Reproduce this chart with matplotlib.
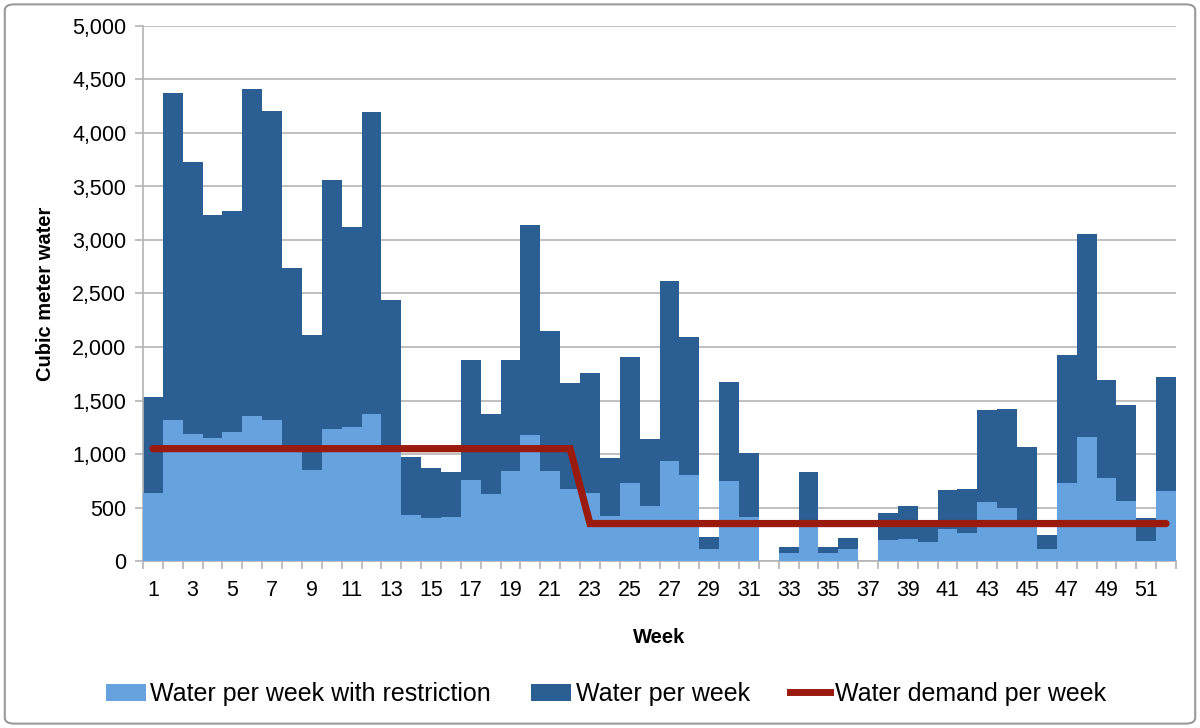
import matplotlib
matplotlib.use("Agg")
import matplotlib.pyplot as plt
from matplotlib.patches import Patch, FancyBboxPatch
from matplotlib.lines import Line2D
from matplotlib.ticker import FuncFormatter

weeks = list(range(1, 53))
water_per_week = [1530, 4370, 3730, 3230, 3270, 4410, 4205, 2740, 2110, 3565,
                  3125, 4200, 2435, 975, 866, 835, 1878, 1371, 1875, 3140,
                  2149, 1667, 1754, 966, 1903, 1137, 2620, 2098, 227, 1676,
                  1006, 0, 131, 835, 131, 215, 0, 445, 514, 370,
                  660, 673, 1408, 1420, 1068, 243, 1922, 3060, 1691, 1461,
                  405, 1716]
water_restricted = [637, 1317, 1183, 1146, 1202, 1351, 1314, 1050, 848, 1230,
                    1255, 1373, 1045, 430, 405, 414, 757, 626, 841, 1180,
                    845, 673, 638, 416, 732, 511, 935, 806, 112, 748,
                    414, 0, 72, 350, 72, 109, 0, 196, 209, 178,
                    296, 265, 548, 492, 340, 115, 732, 1159, 779, 561,
                    187, 654]
demand = [1050] * 22 + [350] * 30

LIGHT = "#66a2dd"
DARK = "#2b5f93"
RED = "#9a1a0e"
GRID = "#b4b4b4"

plt.rcParams['font.family'] = ['Liberation Sans', 'DejaVu Sans']

fig = plt.figure(figsize=(12, 7.28), dpi=100)
ax = fig.add_axes([143/1200, 1 - 561/728, (1176 - 143)/1200, (561 - 26)/728])

ax.bar(weeks, water_per_week, width=1.0, color=DARK, linewidth=0, zorder=2,
       label="Water per week")
ax.bar(weeks, water_restricted, width=1.0, color=LIGHT, linewidth=0, zorder=3,
       label="Water per week with restriction")
ax.plot(weeks, demand, color=RED, linewidth=5.2, solid_capstyle='round',
        solid_joinstyle='miter', zorder=4, label="Water demand per week")

ax.set_xlim(0.5, 52.5)
ax.set_ylim(0, 5000)
ax.set_yticks(range(0, 5001, 500))
ax.yaxis.set_major_formatter(FuncFormatter(lambda v, p: f"{int(v):,}"))
ax.grid(axis='y', color=GRID, linewidth=1.2, zorder=0)
ax.set_axisbelow(True)

# x ticks: marks at category boundaries, labels on odd weeks
ax.set_xticks([w + 0.5 for w in range(0, 53)], minor=True)
ax.set_xticks(weeks[::2])
ax.set_xticklabels([str(w) for w in weeks[::2]])
ax.tick_params(axis='x', which='major', length=0, pad=14, labelsize=15.5)
ax.tick_params(axis='x', which='minor', length=6, color=GRID, width=1.2)
ax.tick_params(axis='y', length=6, color=GRID, width=1.2, labelsize=15.5, pad=6)

for s in ['top', 'right']:
    ax.spines[s].set_visible(False)
for s in ['left', 'bottom']:
    ax.spines[s].set_color(GRID)
    ax.spines[s].set_linewidth(1.2)

ax.set_ylabel("Cubic meter water", fontsize=14.5, fontweight='bold', labelpad=12)
ax.set_xlabel("Week", fontsize=14.5, fontweight='bold', labelpad=19)

handles = [Patch(facecolor=LIGHT, edgecolor='none'),
           Patch(facecolor=DARK, edgecolor='none'),
           Line2D([0], [0], color=RED, linewidth=5)]
labels = ["Water per week with restriction", "Water per week", "Water demand per week"]
fig.legend(handles, labels, loc='center', bbox_to_anchor=(0.505, 1 - 694/728),
           ncol=3, frameon=False, fontsize=18, handlelength=1.6, handleheight=0.7,
           handletextpad=0.2, columnspacing=1.6)

border = FancyBboxPatch((0.004, 0.006), 0.992, 0.988, boxstyle="round,pad=0,rounding_size=0.008",
                        transform=fig.transFigure, fill=False, edgecolor="#9a9a9a",
                        linewidth=1.5)
fig.patches.append(border)

fig.savefig("out.png", dpi=100)
